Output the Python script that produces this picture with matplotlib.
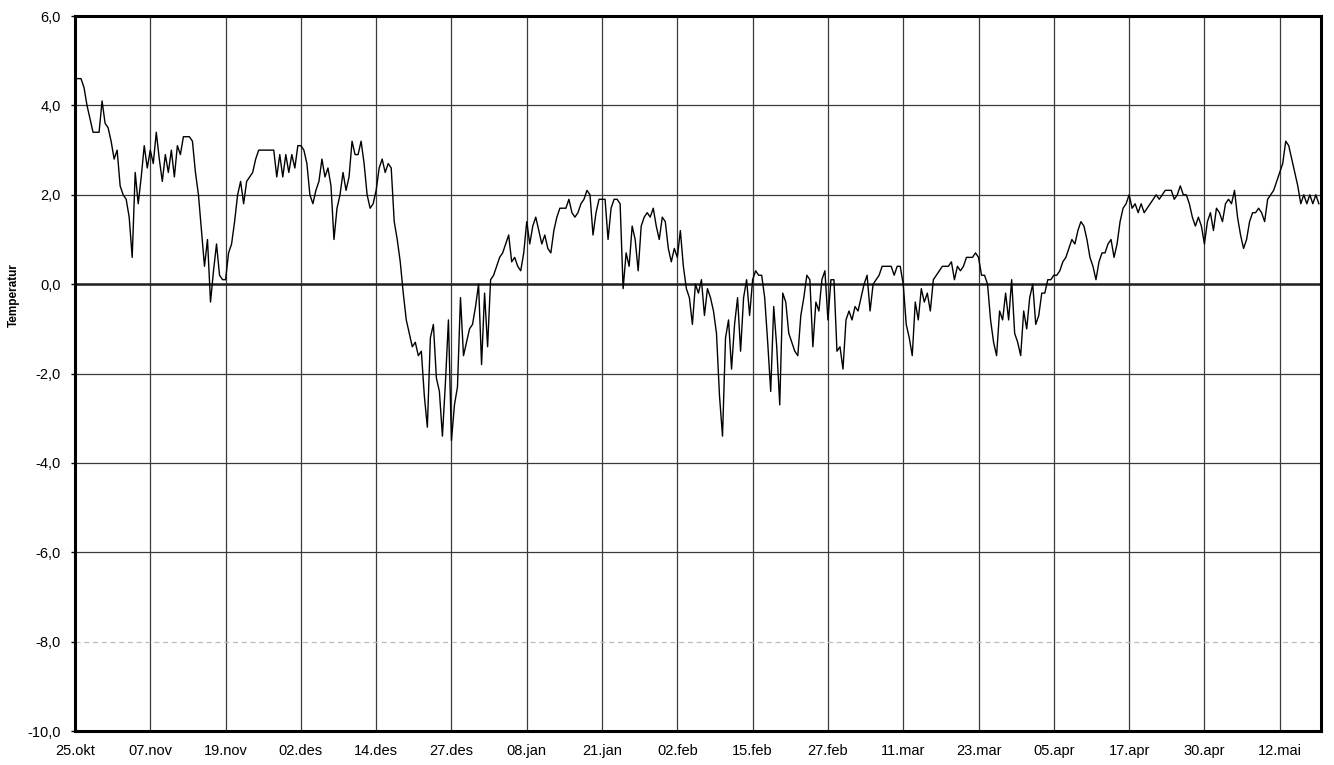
# Temperatur-serie, 25.okt - mai (12-timers verdier lest av figuren)
import datetime as dt
import numpy as np
import matplotlib
matplotlib.use("Agg")
import matplotlib.pyplot as plt
import matplotlib.dates as mdates
from matplotlib.ticker import FuncFormatter, MultipleLocator

plt.rcParams['font.family'] = ['Liberation Sans', 'DejaVu Sans']

# one list per 12.5-day tick interval, values every 12 hours
seg_25okt = [4.6, 4.6, 4.6, 4.4, 4.0, 3.7, 3.4, 3.4, 3.4, 4.1, 3.6, 3.5, 3.2, 2.8, 3.0, 2.2, 2.0, 1.9, 1.5, 0.6, 2.5, 1.8, 2.4, 3.1, 2.6]
seg_07nov = [3.0, 2.7, 3.4, 2.8, 2.3, 2.9, 2.5, 3.0, 2.4, 3.1, 2.9, 3.3, 3.3, 3.3, 3.2, 2.5, 2.0, 1.2, 0.4, 1.0, -0.4, 0.3, 0.9, 0.2, 0.1]
seg_19nov = [0.1, 0.7, 0.9, 1.4, 2.0, 2.3, 1.8, 2.3, 2.4, 2.5, 2.8, 3.0, 3.0, 3.0, 3.0, 3.0, 3.0, 2.4, 2.9, 2.4, 2.9, 2.5, 2.9, 2.6, 3.1]
seg_02des = [3.1, 3.0, 2.7, 2.0, 1.8, 2.1, 2.3, 2.8, 2.4, 2.6, 2.2, 1.0, 1.7, 2.0, 2.5, 2.1, 2.4, 3.2, 2.9, 2.9, 3.2, 2.7, 2.0, 1.7, 1.8]
seg_14des = [2.1, 2.6, 2.8, 2.5, 2.7, 2.6, 1.4, 1.0, 0.5, -0.2, -0.8, -1.1, -1.4, -1.3, -1.6, -1.5, -2.5, -3.2, -1.2, -0.9, -2.1, -2.4, -3.4, -2.2, -0.8]
seg_27des = [-3.5, -2.7, -2.3, -0.3, -1.6, -1.3, -1.0, -0.9, -0.5, 0.0, -1.8, -0.2, -1.4, 0.1, 0.2, 0.4, 0.6, 0.7, 0.9, 1.1, 0.5, 0.6, 0.4, 0.3, 0.7]
seg_08jan = [1.4, 0.9, 1.3, 1.5, 1.2, 0.9, 1.1, 0.8, 0.7, 1.2, 1.5, 1.7, 1.7, 1.7, 1.9, 1.6, 1.5, 1.6, 1.8, 1.9, 2.1, 2.0, 1.1, 1.6, 1.9]
seg_21jan = [1.9, 1.9, 1.0, 1.7, 1.9, 1.9, 1.8, -0.1, 0.7, 0.4, 1.3, 1.0, 0.3, 1.3, 1.5, 1.6, 1.5, 1.7, 1.3, 1.0, 1.5, 1.4, 0.8, 0.5, 0.8]
seg_02feb = [0.6, 1.2, 0.4, -0.1, -0.3, -0.9, 0.0, -0.2, 0.1, -0.7, -0.1, -0.3, -0.6, -1.1, -2.5, -3.4, -1.2, -0.8, -1.9, -0.9, -0.3, -1.5, -0.3, 0.1, -0.7]
seg_15feb = [0.1, 0.3, 0.2, 0.2, -0.3, -1.3, -2.4, -0.5, -1.4, -2.7, -0.2, -0.4, -1.1, -1.3, -1.5, -1.6, -0.7, -0.3, 0.2, 0.1, -1.4, -0.4, -0.6, 0.1, 0.3]
seg_27feb = [-0.8, 0.1, 0.1, -1.5, -1.4, -1.9, -0.8, -0.6, -0.8, -0.5, -0.6, -0.3, 0.0, 0.2, -0.6, 0.0, 0.1, 0.2, 0.4, 0.4, 0.4, 0.4, 0.2, 0.4, 0.4]
seg_11mar = [0.0, -0.9, -1.2, -1.6, -0.4, -0.8, -0.1, -0.4, -0.2, -0.6, 0.1, 0.2, 0.3, 0.4, 0.4, 0.4, 0.5, 0.1, 0.4, 0.3, 0.4, 0.6, 0.6, 0.6, 0.7]
seg_23mar = [0.6, 0.2, 0.2, 0.0, -0.8, -1.3, -1.6, -0.6, -0.8, -0.2, -0.8, 0.1, -1.1, -1.3, -1.6, -0.6, -1.0, -0.3, 0.0, -0.9, -0.7, -0.2, -0.2, 0.1, 0.1]
seg_05apr = [0.2, 0.2, 0.3, 0.5, 0.6, 0.8, 1.0, 0.9, 1.2, 1.4, 1.3, 1.0, 0.6, 0.4, 0.1, 0.5, 0.7, 0.7, 0.9, 1.0, 0.6, 0.9, 1.4, 1.7, 1.8]
seg_17apr = [2.0, 1.7, 1.8, 1.6, 1.8, 1.6, 1.7, 1.8, 1.9, 2.0, 1.9, 2.0, 2.1, 2.1, 2.1, 1.9, 2.0, 2.2, 2.0, 2.0, 1.8, 1.5, 1.3, 1.5, 1.3]
seg_30apr = [0.9, 1.4, 1.6, 1.2, 1.7, 1.6, 1.4, 1.8, 1.9, 1.8, 2.1, 1.5, 1.1, 0.8, 1.0, 1.4, 1.6, 1.6, 1.7, 1.6, 1.4, 1.9, 2.0, 2.1, 2.3]
seg_12mai = [2.5, 2.7, 3.2, 3.1, 2.8, 2.5, 2.2, 1.8, 2.0, 1.8, 2.0, 1.8, 2.0, 1.8]

temp = np.array(seg_25okt + seg_07nov + seg_19nov + seg_02des + seg_14des + seg_27des
                + seg_08jan + seg_21jan + seg_02feb + seg_15feb + seg_27feb + seg_11mar
                + seg_23mar + seg_05apr + seg_17apr + seg_30apr + seg_12mai)

start = dt.datetime(1995, 10, 25, 12)
times = [start + dt.timedelta(hours=12 * i) for i in range(len(temp))]
ticks = [start + dt.timedelta(days=12.5 * k) for k in range(17)]

mnd = {1: 'jan', 2: 'feb', 3: 'mar', 4: 'apr', 5: 'mai', 6: 'jun',
       7: 'jul', 8: 'aug', 9: 'sep', 10: 'okt', 11: 'nov', 12: 'des'}


def datofmt(x, pos):
    d = mdates.num2date(x)
    return "%02d.%s" % (d.day, mnd[d.month])


fig = plt.figure(figsize=(13.34, 7.65), dpi=100)
ax = fig.add_axes([0.0562, 0.0444, 0.9338, 0.9346])

ax.plot(times, temp, color='black', lw=1.0, zorder=3)

ax.set_ylim(-10, 6)
ax.set_xlim(start, start + dt.timedelta(days=206.8))
ax.yaxis.set_major_locator(MultipleLocator(2))
ax.yaxis.set_major_formatter(FuncFormatter(lambda v, p: ("%.1f" % v).replace('.', ',')))
ax.set_xticks(ticks)
ax.xaxis.set_major_formatter(FuncFormatter(datofmt))

ax.grid(True, color='#3a3a3a', lw=0.9)
ax.axhline(0, color='#222222', lw=1.8, zorder=2)
for gl, v in zip(ax.get_ygridlines(), ax.get_yticks()):
    if v == -8:
        gl.set_color('#bbbbbb')
        gl.set_linestyle((0, (4, 3)))

for s in ax.spines.values():
    s.set_linewidth(2.2)
    s.set_color('black')

ax.tick_params(axis='y', length=3, width=1, labelsize=10.5, pad=7)
ax.tick_params(axis='x', length=0, labelsize=10.5, pad=9)
ax.set_ylabel('Temperatur', fontsize=8.5, fontweight='bold')
ax.yaxis.set_label_coords(-0.044, 0.61)

fig.savefig('out.png', dpi=100)
